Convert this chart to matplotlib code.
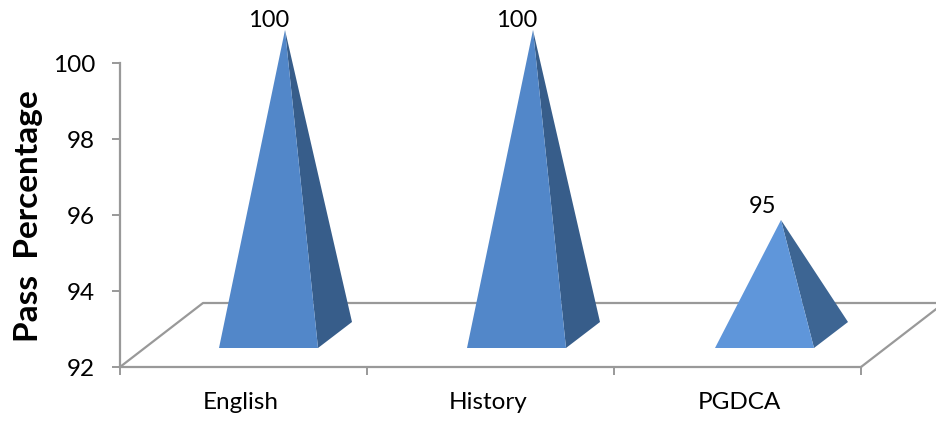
"""Pass percentage by subject, drawn as pseudo-3D pyramids."""
import matplotlib
matplotlib.use("Agg")
import matplotlib.pyplot as plt
from matplotlib.patches import Polygon
from matplotlib.transforms import ScaledTranslation

W, H = 937, 421

categories = ["English", "History", "PGDCA"]
values = [100, 100, 95]
yticks = [92, 94, 96, 98, 100]

front_colors = ["#5287C9", "#5287C9", "#5F96DA"]
side_colors = ["#375D8A", "#375D8A", "#3D6593"]
GRID = "#999999"

plt.rcParams["font.family"] = ["Lato", "DejaVu Sans"]

fig = plt.figure(figsize=(W / 100, H / 100), dpi=100)
ax = fig.add_axes([120 / W, (H - 367) / H, 741 / W, 304 / H])
ax.set_xlim(-0.5, 2.5)
ax.set_ylim(92, 100)
ax.patch.set_alpha(0)

# sizes of the fake depth, axis units
px = 3 / 741
py = 8 / 304
depth_x, depth_y = 83 * px, 64 * py

# floor
ax.plot([-0.5, -0.5 + depth_x, 2.5 + depth_x], [92, 92 + depth_y, 92 + depth_y],
        color=GRID, lw=1.6, clip_on=False)
ax.plot([2.5, 2.5 + depth_x], [92, 92 + depth_y], color=GRID, lw=1.6, clip_on=False)

half_w = 49.5 * px
for i, (v, fc, sc) in enumerate(zip(values, front_colors, side_colors)):
    x0 = i + (25 + i) * px
    y0 = 92 + 19 * py
    apex = (x0 + 16.5 * px, v + 33 * py)
    br = (x0 + half_w, y0)
    back = (br[0] + 34 * px, y0 + 26 * py)
    ax.add_patch(Polygon([br, back, apex], closed=True, fc=sc, ec="none", clip_on=False, zorder=3))
    ax.add_patch(Polygon([(x0 - half_w, y0), br, apex], closed=True, fc=fc, ec="none",
                         clip_on=False, zorder=3))
    ax.annotate(str(v), apex, xytext=(-13 if v == 95 else -12, 5 if v == 95 else 2),
                textcoords="offset points", fontsize=17, ha="center", va="baseline",
                color="black", annotation_clip=False)

for s in ("top", "right"):
    ax.spines[s].set_visible(False)
for s in ("left", "bottom"):
    ax.spines[s].set_color(GRID)
    ax.spines[s].set_linewidth(1.6)

ax.set_yticks(yticks)
ax.set_xticks([-0.5, 0.5, 1.5, 2.5])
ax.set_xticklabels([])
ax.set_xticks(range(3), categories, minor=True)
ax.tick_params(axis="x", which="minor", length=0, pad=18, labelsize=17.5)
ax.tick_params(axis="x", which="major", length=6, width=1.4, color=GRID, direction="out")
ax.tick_params(axis="y", length=6, width=1.4, color=GRID, labelsize=17.5, pad=12)

# category labels sit slightly off the slot centre
for lbl, dx in zip(ax.get_xticklabels(minor=True), [-2, -2, 1]):
    lbl.set_transform(lbl.get_transform() + ScaledTranslation(dx / 72, 0, fig.dpi_scale_trans))

ax.set_ylabel("Pass  Percentage", fontsize=24, fontweight="bold")
ax.yaxis.set_label_coords(-77 / 741, 0.497)

fig.savefig("out.png", dpi=100)
